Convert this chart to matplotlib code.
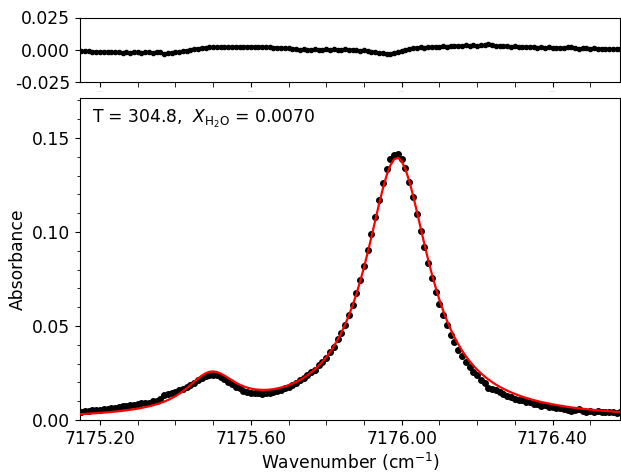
import numpy as np
import matplotlib
matplotlib.use("Agg")
import matplotlib.pyplot as plt
from matplotlib.ticker import MultipleLocator, FormatStrFormatter

# wavenumber grid of the measurement (cm^-1), step 0.01
wn_start = 7175.15
wn_step = 0.01

# measured absorbance (black dots)
absorbance = [
    0.00414, 0.00465, 0.00457, 0.00509, 0.00553, 0.00547, 0.00592, 0.00589, 0.00637, 0.00636,
    0.00687, 0.00730, 0.00725, 0.00772, 0.00772, 0.00825, 0.00892, 0.00893, 0.00929, 0.01020,
    0.01018, 0.01123, 0.01317, 0.01362, 0.01418, 0.01488, 0.01572, 0.01652, 0.01766, 0.01874,
    0.01989, 0.02121, 0.02239, 0.02324, 0.02383, 0.02395, 0.02382, 0.02272, 0.02181, 0.02025,
    0.01918, 0.01769, 0.01685, 0.01567, 0.01516, 0.01433, 0.01415, 0.01412, 0.01372, 0.01414,
    0.01448, 0.01504, 0.01520, 0.01607, 0.01694, 0.01742, 0.01872, 0.01994, 0.02148, 0.02237,
    0.02420, 0.02541, 0.02680, 0.02920, 0.03104, 0.03314, 0.03634, 0.03907, 0.04289, 0.04643,
    0.05055, 0.05599, 0.06112, 0.06758, 0.07458, 0.08174, 0.09029, 0.09903, 0.10813, 0.11726,
    0.12598, 0.13364, 0.13866, 0.14123, 0.14129, 0.13876, 0.13384, 0.12685, 0.11865, 0.10981,
    0.10066, 0.09219, 0.08338, 0.07580, 0.06825, 0.06196, 0.05560, 0.05054, 0.04545, 0.04146,
    0.03733, 0.03429, 0.03081, 0.02845, 0.02566, 0.02381, 0.02148, 0.01994, 0.01697, 0.01654,
    0.01574, 0.01486, 0.01398, 0.01270, 0.01230, 0.01117, 0.01090, 0.01050, 0.00945, 0.00935,
    0.00859, 0.00848, 0.00770, 0.00775, 0.00703, 0.00704, 0.00637, 0.00653, 0.00591, 0.00511,
    0.00453, 0.00556, 0.00561, 0.00497, 0.00445, 0.00484, 0.00434, 0.00465, 0.00417, 0.00450,
    0.00404, 0.00428, 0.00384, 0.00410,
]

# fitted model (red line), same grid
fit = [
    0.00314, 0.00325, 0.00337, 0.00349, 0.00363, 0.00377, 0.00392, 0.00409, 0.00427, 0.00446,
    0.00467, 0.00490, 0.00515, 0.00542, 0.00572, 0.00605, 0.00642, 0.00683, 0.00729, 0.00780,
    0.00838, 0.00903, 0.00977, 0.01062, 0.01158, 0.01268, 0.01392, 0.01532, 0.01686, 0.01854,
    0.02029, 0.02201, 0.02359, 0.02484, 0.02563, 0.02585, 0.02552, 0.02472, 0.02361, 0.02235,
    0.02108, 0.01989, 0.01885, 0.01797, 0.01726, 0.01673, 0.01635, 0.01612, 0.01602, 0.01604,
    0.01618, 0.01644, 0.01680, 0.01727, 0.01784, 0.01852, 0.01932, 0.02024, 0.02128, 0.02247,
    0.02380, 0.02531, 0.02700, 0.02890, 0.03104, 0.03344, 0.03614, 0.03917, 0.04259, 0.04643,
    0.05075, 0.05559, 0.06102, 0.06708, 0.07378, 0.08114, 0.08909, 0.09753, 0.10623, 0.11486,
    0.12298, 0.13004, 0.13546, 0.13873, 0.13949, 0.13766, 0.13344, 0.12725, 0.11965, 0.11121,
    0.10246, 0.09379, 0.08548, 0.07770, 0.07055, 0.06406, 0.05820, 0.05294, 0.04825, 0.04406,
    0.04033, 0.03699, 0.03401, 0.03135, 0.02896, 0.02681, 0.02488, 0.02314, 0.02157, 0.02014,
    0.01884, 0.01766, 0.01658, 0.01560, 0.01470, 0.01387, 0.01310, 0.01240, 0.01175, 0.01115,
    0.01059, 0.01008, 0.00960, 0.00915, 0.00873, 0.00834, 0.00797, 0.00763, 0.00731, 0.00701,
    0.00673, 0.00646, 0.00621, 0.00597, 0.00575, 0.00554, 0.00534, 0.00515, 0.00497, 0.00480,
    0.00464, 0.00448, 0.00434, 0.00420,
]

wn = wn_start + wn_step * np.arange(len(absorbance))
absorbance = np.array(absorbance)
fit = np.array(fit)
residual = fit - absorbance

label_text = r"T = 304.8,  $X_{\mathrm{H_2O}}$ = 0.0070"

plt.rcParams['font.family'] = ['DejaVu Sans']
plt.rcParams['font.size'] = 12

fig = plt.figure(figsize=(6.21, 4.72), dpi=100)
L, R = 80 / 621, 0.999
ax_top = fig.add_axes([L, 1 - 81.7 / 472, R - L, (81.7 - 17.5) / 472])
ax = fig.add_axes([L, 1 - 420 / 472, R - L, (420 - 98) / 472])

xlim = (7175.147, 7176.580)

# residual panel
ax_top.plot(wn, residual, '-o', color='black', ms=3.0, lw=2.0)
ax_top.set_xlim(*xlim)
ax_top.set_ylim(-0.025, 0.025)
ax_top.set_yticks([-0.025, 0.0, 0.025])
ax_top.yaxis.set_major_formatter(FormatStrFormatter('%.3f'))
ax_top.xaxis.set_major_locator(MultipleLocator(0.4))
ax_top.xaxis.set_minor_locator(MultipleLocator(0.1))
ax_top.xaxis.set_major_formatter(FormatStrFormatter('%.2f'))
ax_top.tick_params(axis='x', which='both', length=3.5, labelsize=1, labelcolor='#999999')
ax_top.tick_params(axis='y', labelsize=12.3)

# main panel
ax.plot(wn, absorbance, 'o', color='black', ms=4.0, zorder=2)
ax.plot(wn, fit, '-', color='red', lw=1.6, zorder=3)
ax.set_xlim(*xlim)
ax.set_ylim(0, 0.1713)
ax.yaxis.set_major_locator(MultipleLocator(0.05))
ax.yaxis.set_minor_locator(MultipleLocator(0.01))
ax.yaxis.set_major_formatter(FormatStrFormatter('%.2f'))
ax.xaxis.set_major_locator(MultipleLocator(0.4))
ax.xaxis.set_minor_locator(MultipleLocator(0.1))
ax.xaxis.set_major_formatter(FormatStrFormatter('%.2f'))
ax.tick_params(axis='x', which='both', length=3.5, labelsize=12.3)
ax.tick_params(axis='y', labelsize=12.3)
ax.set_xlabel(r"Wavenumber (cm$^{-1}$)", fontsize=12.3, labelpad=2)
ax.set_ylabel("Absorbance", fontsize=12.3)
ax.text(0.022, 0.935, label_text, transform=ax.transAxes, fontsize=12.3,
        ha='left', va='center')

fig.savefig("out.png", dpi=100)
